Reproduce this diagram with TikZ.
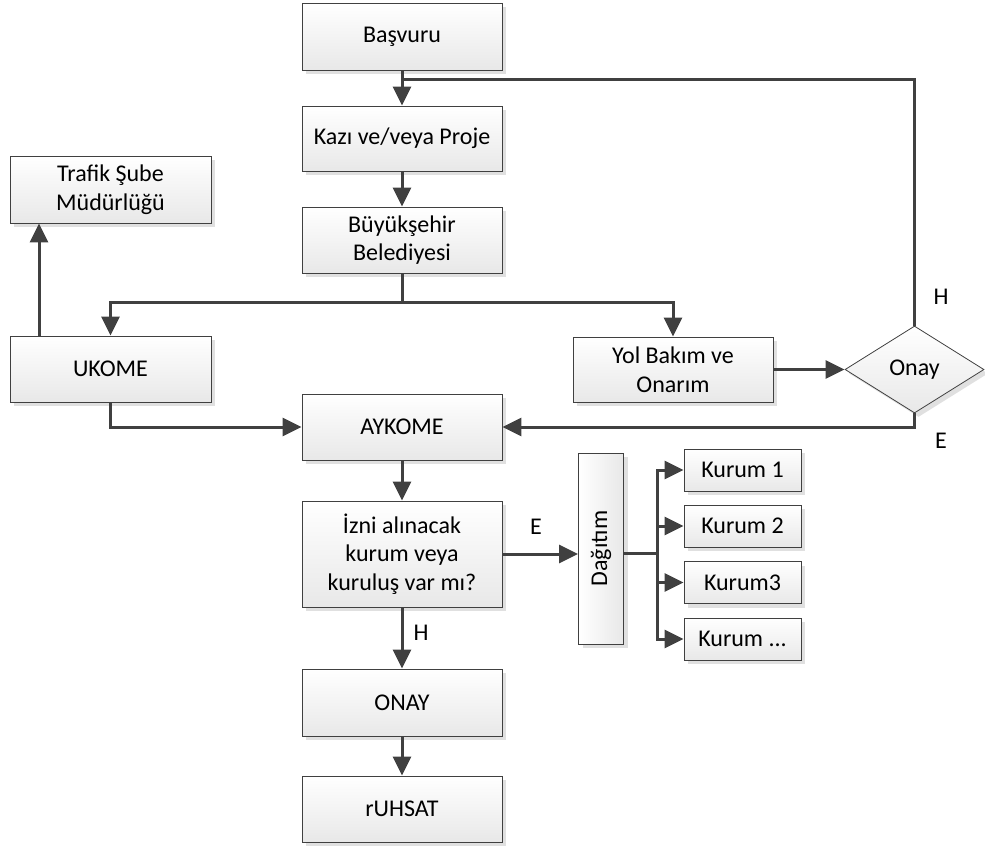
\documentclass[tikz,border=0pt]{standalone}
\usepackage{fontspec}
\usepackage{graphicx}
\setmainfont{Carlito}
\usetikzlibrary{arrows.meta,shapes.geometric,shadows}
\definecolor{ln}{HTML}{404040}
\tikzset{
  boxbase/.style={draw=ln, line width=0.8pt, top color=white, bottom color=black!9,
    align=center, inner sep=2pt, font=\fontsize{24}{28.5}\selectfont,
    drop shadow={shadow xshift=4pt, shadow yshift=-4pt, fill=black!12, opacity=1}},
  bigbox/.style={boxbase, minimum width=200pt, minimum height=66pt},
  kbox/.style={boxbase, minimum width=117pt, minimum height=42pt},
  dec/.style={shape=diamond, draw=ln, line width=0.8pt, top color=white, bottom color=black!9,
    aspect=1.6, minimum width=139pt, minimum height=87pt, inner sep=0pt,
    font=\fontsize{24}{28.5}\selectfont,
    drop shadow={shadow xshift=4pt, shadow yshift=-4pt, fill=black!12, opacity=1}},
  lab/.style={font=\fontsize{24}{28.5}\selectfont, inner sep=0pt},
  conn/.style={draw=ln, line width=3pt},
  arr/.style={conn, -{Triangle[length=19pt,width=18pt]}}
}
\begin{document}
\begin{tikzpicture}[x=1pt,y=-1pt]
\useasboundingbox (0,0) rectangle (985,847);
\node[bigbox, minimum height=67pt] (bas) at (402,36.5) {Başvuru};
\node[bigbox, minimum height=65pt] (kazi) at (402,138.5) {Kazı ve/veya Proje};
\node[bigbox] (buyuk) at (402,240) {Büyükşehir\\Belediyesi};
\node[bigbox, minimum width=201pt, minimum height=67pt] (trafik) at (110.5,189.5) {Trafik Şube\\Müdürlüğü};
\node[bigbox, minimum width=201pt] (ukome) at (110.5,369) {UKOME};
\node[bigbox, minimum height=65pt] (yol) at (673,369.5) {Yol Bakım ve\\Onarım};
\node[dec] (onay) at (914.5,369.5) {Onay};
\node[bigbox] (aykome) at (402,427) {AYKOME};
\node[bigbox, minimum height=106pt] (izni) at (402,554) {İzni alınacak\\kurum veya\\kuruluş var mı?};
\node[bigbox, minimum height=67pt] (onayb) at (402,702.5) {ONAY};
\node[bigbox] (ruhsat) at (402,809) {rUHSAT};
\node[boxbase, minimum width=45pt, minimum height=191pt, left color=white, right color=black!9] (dag) at (601,548.5) {\rotatebox{90}{Dağıtım}};
\node[kbox] (k1) at (742.5,470) {Kurum 1};
\node[kbox] (k2) at (742.5,526) {Kurum 2};
\node[kbox] (k3) at (742.5,582.5) {Kurum3};
\node[kbox] (k4) at (742.5,639) {Kurum ...};

\coordinate (j1) at (402,79);
\coordinate (j2) at (402,302);
\coordinate (sp) at (657,553);
\coordinate (tu) at (39,336);

\draw[arr] (bas) -- (kazi);
\draw[conn] (onay.north) |- (j1);
\draw[arr] (kazi) -- (buyuk);
\draw[conn] (buyuk.south) -- (j2);
\draw[arr] (j2) -| (ukome.north);
\draw[arr] (j2) -| (yol.north);
\draw[arr] (tu) -- (tu |- trafik.south);
\draw[arr] (ukome.south) |- (aykome.west);
\draw[arr] (yol.east) -- (onay.west);
\draw[arr] (onay.south) |- (aykome.east);
\draw[arr] (aykome) -- (izni);
\draw[arr] (izni.east) -- (izni.east -| dag.west);
\draw[conn] (dag.east |- sp) -- (sp);
\draw[arr] (sp) |- (k1.west);
\draw[arr] (sp) |- (k2.west);
\draw[arr] (sp) |- (k3.west);
\draw[arr] (sp) |- (k4.west);
\draw[arr] (izni) -- (onayb);
\draw[arr] (onayb) -- (ruhsat);

\node[lab] (lh1) at (941,297) {H};
\node[lab] (le1) at (941,441) {E};
\node[lab] (le2) at (536,527) {E};
\node[lab] (lh2) at (421,633) {H};
\end{tikzpicture}
\end{document}
